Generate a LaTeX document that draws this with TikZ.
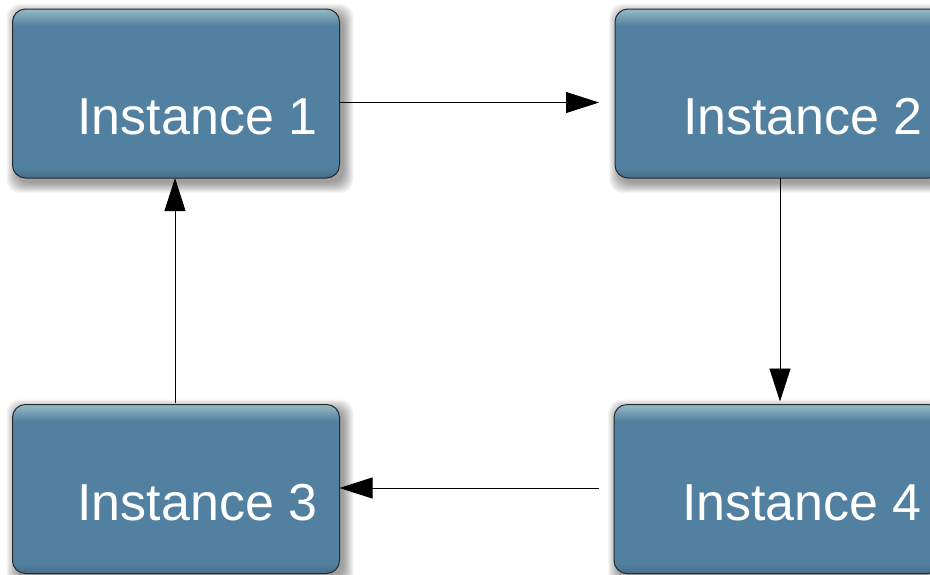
\documentclass[tikz,border=0pt]{standalone}
\usepackage{fontspec}
\setmainfont{Liberation Sans}
\usetikzlibrary{arrows.meta,calc}

\definecolor{boxfill}{RGB}{82,128,160}
\definecolor{boxtop}{RGB}{150,186,198}
\definecolor{boxedge}{RGB}{38,42,46}

% vertical shading: light band along the top, slightly darker at the bottom
\pgfdeclareverticalshading{boxshade}{100bp}{%
  color(0bp)=(boxfill!85!black);
  color(25bp)=(boxfill!85!black);
  color(28bp)=(boxfill);
  color(70bp)=(boxfill);
  color(75bp)=(boxtop);
  color(100bp)=(boxtop)}

\pgfdeclarelayer{background}
\pgfsetlayers{background,main}

\tikzset{
  inst/.style={rectangle, rounded corners=13pt, minimum width=327pt,
    minimum height=169pt, inner sep=0pt, outer sep=0pt,
    draw=boxedge, line width=1pt, shade, shading=boxshade},
  lbl/.style={anchor=base west, inner sep=0pt, outer sep=0pt, text=white,
    font=\fontsize{52}{60}\selectfont},
  arr/.style={draw=black, line width=0.8pt,
    -{Triangle[length=33pt,width=21pt]}},
}

\newcommand{\boxshadow}[1]{%
  \foreach \k in {0,...,10}{%
    \fill[black, opacity=0.04, rounded corners=13pt]
      ($(#1.north west)+(4-\k,5-\k)$) rectangle ($(#1.south east)+(4+\k,5+\k)$);
  }}

\begin{document}
\begin{tikzpicture}[x=1pt, y=-1pt]
  \useasboundingbox (0,0) rectangle (930,574);
  \clip (0,0) rectangle (930,574);

  % the four boxes
  \node[inst] (i1) at (176,93.5) {};
  \node[inst] (i2) at (778.5,93.5) {};
  \node[inst] (i3) at (176,489) {};
  \node[inst] (i4) at (777.5,489) {};

  \begin{pgfonlayer}{background}
    \fill[white] (0,0) rectangle (930,574);
    \boxshadow{i1}
    \boxshadow{i2}
    \boxshadow{i3}
    \boxshadow{i4}
  \end{pgfonlayer}

  % labels
  \node[lbl] (t1) at (77.5,134.5) {Instance 1};
  \node[lbl] (t2) at (683,134.5) {Instance 2};
  \node[lbl] (t3) at (77.5,520) {Instance 3};
  \node[lbl] (t4) at (682,520) {Instance 4};

  % connectors
  \draw[arr, shorten >=16pt] ([yshift=-9pt]i1.east) -- ([yshift=-9pt]i1.east -| i2.west);
  \draw[arr, shorten >=3pt] ([xshift=1.5pt]i2.south) -- ([xshift=1.5pt]i2.south |- i4.north);
  \draw[arr, shorten <=15pt] ([yshift=1pt]i4.west) -- ([yshift=1pt]i4.west -| i3.east);
  \draw[arr, shorten <=2pt] ([xshift=-1pt]i3.north) -- ([xshift=-1pt]i3.north |- i1.south);
\end{tikzpicture}
\end{document}
